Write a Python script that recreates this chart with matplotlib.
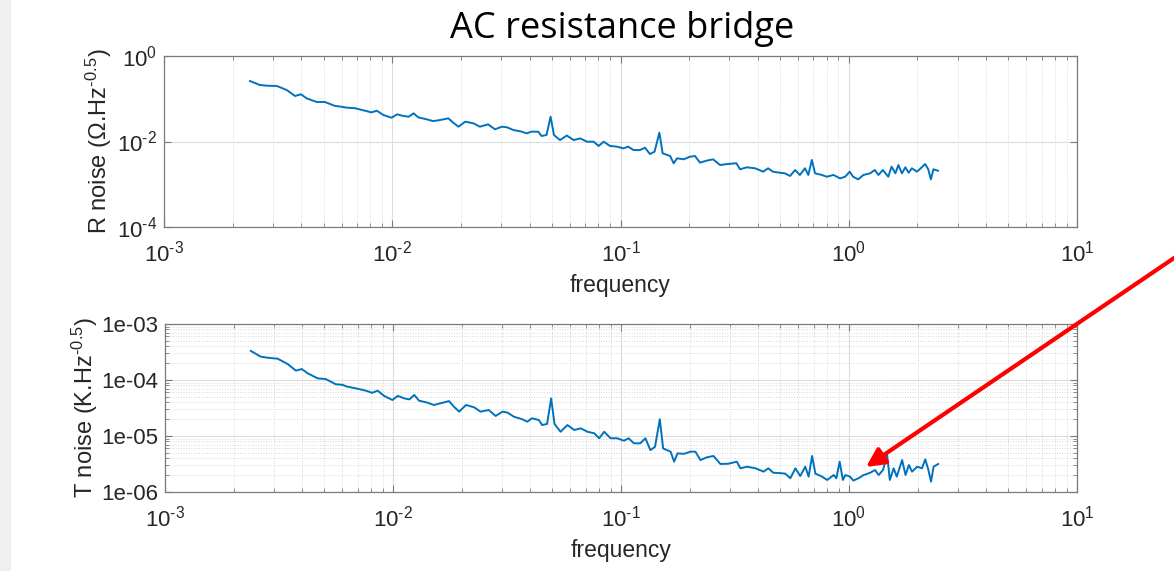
import matplotlib
matplotlib.use('Agg')
import matplotlib.pyplot as plt
from matplotlib.ticker import LogLocator, FixedLocator, FixedFormatter, NullFormatter, NullLocator
from matplotlib.patches import Rectangle, FancyArrowPatch

plt.rcParams['font.family'] = ['Liberation Sans', 'DejaVu Sans']
plt.rcParams['mathtext.fontset'] = 'custom'
plt.rcParams['mathtext.rm'] = 'Liberation Sans'
plt.rcParams['mathtext.it'] = 'Liberation Sans:italic'
plt.rcParams['mathtext.default'] = 'regular'

# frequency points (Hz)
freq_common = [
    2.38e-3, 2.63e-3, 2.82e-3, 3.12e-3, 3.45e-3, 3.75e-3, 3.98e-3, 4.22e-3, 4.67e-3, 5.07e-3,
    5.61e-3, 6.0e-3, 6.3e-3, 6.87e-3, 7.6e-3, 8.1e-3, 8.56e-3, 9.14e-3, 9.94e-3, 0.0105,
    0.0112, 0.0118, 0.0124, 0.013, 0.01416, 0.0151, 0.0162, 0.0176, 0.0185, 0.0195,
    0.0209, 0.0227, 0.0242, 0.0263, 0.0282, 0.0302, 0.0318, 0.0339, 0.0369, 0.0388,
    0.0407, 0.0436, 0.0451, 0.0474, 0.0494, 0.0511, 0.0543, 0.0582, 0.0623, 0.0666,
    0.0713, 0.0763, 0.0802, 0.0844, 0.090, 0.0962, 0.103, 0.108, 0.114, 0.1215,
    0.128, 0.1345, 0.141, 0.148, 0.153, 0.165, 0.171, 0.177, 0.189, 0.2015,
    0.212, 0.223, 0.238, 0.2545, 0.273, 0.296, 0.322, 0.334, 0.357, 0.389,
    0.422, 0.443, 0.465, 0.4995, 0.525, 0.553, 0.582, 0.611, 0.643, 0.665,
]
freq_r = freq_common + [
    0.689, 0.712, 0.762, 0.802, 0.857, 0.916, 0.964, 1.01, 1.045, 1.10,
    1.16, 1.24, 1.30, 1.35, 1.41, 1.49, 1.54, 1.60, 1.65, 1.71,
    1.77, 1.83, 1.89, 1.99, 2.09, 2.16, 2.23, 2.29, 2.35, 2.46,
]
freq_t = freq_common + [
    0.689, 0.712, 0.762, 0.802, 0.857, 0.88, 0.91, 0.94, 0.964, 1.01,
    1.045, 1.10, 1.16, 1.24, 1.30, 1.35, 1.41, 1.47, 1.51, 1.57,
    1.62, 1.71, 1.77, 1.83, 1.89, 1.99, 2.09, 2.16, 2.23, 2.29,
    2.35, 2.46,
]

# R noise (Ohm/sqrt(Hz))
r_noise = [
    0.260, 0.210, 0.202, 0.199, 0.160, 0.116, 0.127, 0.102, 0.084, 0.084,
    0.068, 0.065, 0.062, 0.060, 0.0525, 0.048, 0.0525, 0.0417, 0.036, 0.0432,
    0.0395, 0.038, 0.0456, 0.0367, 0.033, 0.030, 0.0318, 0.0348, 0.0276, 0.0222,
    0.0291, 0.0266, 0.0222, 0.0252, 0.0193, 0.0222, 0.0215, 0.0186, 0.0170, 0.0155,
    0.0170, 0.0170, 0.01345, 0.0142, 0.038, 0.0142, 0.0108, 0.0138, 0.0108, 0.0118,
    0.0099, 0.0099, 0.00785, 0.0099, 0.00785, 0.0076, 0.0069, 0.0076, 0.0063, 0.0063,
    0.00716, 0.0051, 0.00578, 0.0161, 0.00529, 0.00458, 0.00309, 0.00405, 0.00383, 0.0044,
    0.00458, 0.0032, 0.00356, 0.00383, 0.00282, 0.00298, 0.0031, 0.00224, 0.00249, 0.00236,
    0.00197, 0.00236, 0.00197, 0.00186, 0.0018, 0.00156, 0.00215, 0.00165, 0.00236, 0.00165,
    0.0037, 0.0018, 0.00165, 0.0015, 0.00165, 0.00137, 0.0015, 0.00197, 0.0015, 0.0013,
    0.00165, 0.0018, 0.00215, 0.00165, 0.00215, 0.0015, 0.00258, 0.0018, 0.00282, 0.0018,
    0.00249, 0.00186, 0.00236, 0.00197, 0.00249, 0.00298, 0.00224, 0.0013, 0.00224, 0.00207,
]

# T noise (K/sqrt(Hz))
t_noise = [
    3.3e-4, 2.61e-4, 2.5e-4, 2.4e-4, 1.93e-4, 1.47e-4, 1.57e-4, 1.32e-4, 1.07e-4, 1.04e-4,
    8.4e-5, 8.2e-5, 7.6e-5, 7.1e-5, 6.45e-5, 5.9e-5, 6.45e-5, 5.2e-5, 4.4e-5, 5.2e-5,
    4.7e-5, 4.5e-5, 5.4e-5, 4.28e-5, 3.94e-5, 3.58e-5, 3.85e-5, 4.2e-5, 3.34e-5, 2.72e-5,
    3.58e-5, 3.25e-5, 2.72e-5, 2.91e-5, 2.28e-5, 2.72e-5, 2.62e-5, 2.21e-5, 1.99e-5, 1.8e-5,
    2.07e-5, 1.93e-5, 1.57e-5, 1.64e-5, 4.7e-5, 1.64e-5, 1.19e-5, 1.57e-5, 1.28e-5, 1.37e-5,
    1.19e-5, 1.12e-5, 9.1e-6, 1.19e-5, 9.1e-6, 9.1e-6, 8.25e-6, 9.1e-6, 7.4e-6, 7.4e-6,
    9.1e-6, 5.6e-6, 6.4e-6, 1.99e-5, 6.0e-6, 5.25e-6, 3.48e-6, 4.9e-6, 4.8e-6, 5.25e-6,
    5.25e-6, 3.72e-6, 4.16e-6, 4.4e-6, 3.16e-6, 3.2e-6, 3.48e-6, 2.65e-6, 2.83e-6, 2.65e-6,
    2.31e-6, 2.65e-6, 2.21e-6, 2.17e-6, 2.13e-6, 1.76e-6, 2.65e-6, 1.93e-6, 2.83e-6, 1.88e-6,
    4.4e-6, 2.13e-6, 1.88e-6, 1.64e-6, 2.01e-6, 1.76e-6, 3.48e-6, 1.64e-6, 2.01e-6, 1.88e-6,
    1.6e-6, 1.76e-6, 2.01e-6, 2.21e-6, 2.47e-6, 2.01e-6, 2.47e-6, 4.58e-6, 1.64e-6, 2.65e-6,
    1.88e-6, 3.72e-6, 2.01e-6, 3.03e-6, 2.31e-6, 2.83e-6, 2.65e-6, 3.83e-6, 2.47e-6, 1.53e-6,
    2.83e-6, 3.16e-6,
]

x_ticks = [1e-3, 1e-2, 1e-1, 1e0, 1e1]
x_labels = [r'$10^{\text{-}3}$', r'$10^{\text{-}2}$', r'$10^{\text{-}1}$', '$10^{0}$', '$10^{1}$']
r_ticks = [1e-4, 1e-2, 1e0]
r_labels = [r'$10^{\text{-}4}$', r'$10^{\text{-}2}$', '$10^{0}$']
t_ticks = [1e-6, 1e-5, 1e-4, 1e-3]
t_labels = ['1e-06', '1e-05', '1e-04', '1e-03']

W, H = 1174, 571
fig = plt.figure(figsize=(W / 100, H / 100), dpi=100)
fig.patches.append(Rectangle((0, 0), 10 / W, 1, transform=fig.transFigure,
                             color='#efefef', zorder=0))

ax_r = fig.add_axes([164 / W, 1 - 227 / H, 913 / W, 171 / H])
ax_t = fig.add_axes([165 / W, 1 - 492 / H, 912 / W, 168 / H])

line_col = '#0072BD'
edge_col = '#7a7a7a'
text_col = '#262626'


def setup(ax):
    ax.set_xscale('log')
    ax.set_yscale('log')
    ax.set_xlim(1e-3, 10)
    ax.xaxis.set_major_locator(FixedLocator(x_ticks))
    ax.xaxis.set_major_formatter(FixedFormatter(x_labels))
    ax.xaxis.set_minor_locator(LogLocator(base=10, subs=range(2, 10), numticks=20))
    ax.xaxis.set_minor_formatter(NullFormatter())
    ax.tick_params(which='both', direction='in', top=True, right=True,
                   color=edge_col, labelcolor=text_col, labelsize=16)
    ax.tick_params(which='major', length=5, width=0.8)
    ax.tick_params(which='minor', length=3, width=0.6)
    ax.tick_params(axis='x', pad=10)
    ax.tick_params(axis='y', pad=5)
    ax.grid(which='major', color='#dcdcdc', lw=0.8)
    for s in ax.spines.values():
        s.set_color(edge_col)
        s.set_linewidth(0.9)
    ax.set_xlabel('frequency', fontsize=16.5, color=text_col, labelpad=5)


setup(ax_r)
ax_r.plot(freq_r, r_noise, color=line_col, lw=1.4)
ax_r.set_ylim(1e-4, 1)
ax_r.yaxis.set_major_locator(FixedLocator(r_ticks))
ax_r.yaxis.set_major_formatter(FixedFormatter(r_labels))
ax_r.yaxis.set_minor_locator(NullLocator())
ax_r.grid(which='minor', axis='x', color='#d8d8d8', ls=':', lw=0.7)
ax_r.set_ylabel('R noise (\u03a9.Hz$^{\\text{-}0.5}$)', fontsize=17, color=text_col)
ax_r.yaxis.set_label_coords(-0.055, 0.5)

setup(ax_t)
ax_t.plot(freq_t, t_noise, color=line_col, lw=1.4)
ax_t.set_ylim(1e-6, 1e-3)
ax_t.yaxis.set_major_locator(FixedLocator(t_ticks))
ax_t.yaxis.set_major_formatter(FixedFormatter(t_labels))
ax_t.yaxis.set_minor_locator(LogLocator(base=10, subs=range(2, 10), numticks=20))
ax_t.yaxis.set_minor_formatter(NullFormatter())
ax_t.grid(which='minor', color='#d8d8d8', ls=':', lw=0.7)
ax_t.set_ylabel('T noise (K.Hz$^{\\text{-}0.5}$)', fontsize=17, color=text_col)
ax_t.yaxis.set_label_coords(-0.071, 0.5)

fig.text(622 / W, 1 - 29 / H, 'AC resistance bridge', ha='center', va='center',
         fontsize=26, family=['Open Sans', 'DejaVu Sans'], color='black')

# red arrow pointing at the T noise floor
fig.add_artist(FancyArrowPatch(
    (1180 / W, 1 - 254 / H), (866 / W, 1 - 467 / H), transform=fig.transFigure,
    arrowstyle='-|>', mutation_scale=28, color='#ff0000', lw=3, shrinkA=0, shrinkB=0))

fig.savefig('out.png', dpi=100)
